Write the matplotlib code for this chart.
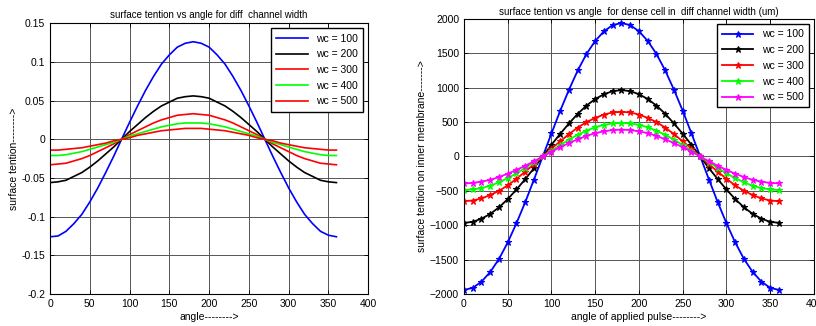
import numpy as np
import matplotlib
matplotlib.use('Agg')
from matplotlib import pyplot as plt

plt.rcParams['font.family'] = ['Liberation Sans', 'DejaVu Sans']

angle = list(range(0, 361, 10))
labels = ['wc = 100', 'wc = 200', 'wc = 300', 'wc = 400', 'wc = 500']

# left panel: surface tension vs angle
st_100 = [-0.126, -0.125, -0.119, -0.109, -0.097, -0.081, -0.063, -0.043, -0.022, 0.000,
          0.022, 0.043, 0.063, 0.081, 0.097, 0.109, 0.119, 0.124, 0.126, 0.124,
          0.119, 0.109, 0.097, 0.081, 0.063, 0.043, 0.022, 0.000, -0.022, -0.043,
          -0.063, -0.081, -0.097, -0.109, -0.119, -0.124, -0.126]
st_200 = [-0.056, -0.055, -0.053, -0.048, -0.043, -0.036, -0.028, -0.019, -0.010, 0.000,
          0.010, 0.019, 0.028, 0.036, 0.043, 0.048, 0.053, 0.055, 0.056, 0.055,
          0.053, 0.048, 0.043, 0.036, 0.028, 0.019, 0.010, 0.000, -0.010, -0.019,
          -0.028, -0.036, -0.043, -0.048, -0.053, -0.055, -0.056]
st_300 = [-0.033, -0.032, -0.031, -0.028, -0.025, -0.021, -0.016, -0.011, -0.006, 0.000,
          0.006, 0.011, 0.016, 0.021, 0.025, 0.028, 0.031, 0.032, 0.033, 0.032,
          0.031, 0.028, 0.025, 0.021, 0.016, 0.011, 0.006, 0.000, -0.006, -0.011,
          -0.016, -0.021, -0.025, -0.028, -0.031, -0.032, -0.033]
st_400 = [-0.021, -0.021, -0.020, -0.018, -0.016, -0.013, -0.010, -0.007, -0.004, 0.000,
          0.004, 0.007, 0.010, 0.013, 0.016, 0.018, 0.020, 0.021, 0.021, 0.021,
          0.020, 0.018, 0.016, 0.013, 0.010, 0.007, 0.004, 0.000, -0.004, -0.007,
          -0.010, -0.013, -0.016, -0.018, -0.020, -0.021, -0.021]
st_500 = [-0.014, -0.014, -0.013, -0.012, -0.011, -0.009, -0.007, -0.005, -0.002, 0.000,
          0.002, 0.005, 0.007, 0.009, 0.011, 0.012, 0.013, 0.014, 0.014, 0.014,
          0.013, 0.012, 0.011, 0.009, 0.007, 0.005, 0.002, 0.000, -0.002, -0.005,
          -0.007, -0.009, -0.011, -0.012, -0.013, -0.014, -0.014]

# right panel: dense cell, inner membrane
dc_100 = [-1940, -1910, -1820, -1680, -1490, -1250, -970, -665, -335, 0,
          335, 665, 970, 1250, 1490, 1680, 1820, 1910, 1940, 1910,
          1820, 1680, 1490, 1250, 970, 665, 335, 0, -335, -665,
          -970, -1250, -1490, -1680, -1820, -1910, -1940]
dc_200 = [-965, -950, -905, -835, -740, -620, -480, -330, -170, 0,
          170, 330, 480, 620, 740, 835, 905, 950, 965, 950,
          905, 835, 740, 620, 480, 330, 170, 0, -170, -330,
          -480, -620, -740, -835, -905, -950, -965]
dc_300 = [-650, -640, -610, -560, -500, -420, -325, -220, -115, 0,
          115, 220, 325, 420, 500, 560, 610, 640, 650, 640,
          610, 560, 500, 420, 325, 220, 115, 0, -115, -220,
          -325, -420, -500, -560, -610, -640, -650]
dc_400 = [-490, -480, -460, -425, -375, -315, -245, -165, -85, 0,
          85, 165, 245, 315, 375, 425, 460, 480, 490, 480,
          460, 425, 375, 315, 245, 165, 85, 0, -85, -165,
          -245, -315, -375, -425, -460, -480, -490]
dc_500 = [-390, -385, -365, -340, -300, -250, -195, -135, -70, 0,
          70, 135, 195, 250, 300, 340, 365, 385, 390, 385,
          365, 340, 300, 250, 195, 135, 70, 0, -70, -135,
          -195, -250, -300, -340, -365, -385, -390]

left_series = [st_100, st_200, st_300, st_400, st_500]
left_colors = ['#0000ff', '#000000', '#ff0000', '#00ff00', '#ff0000']
right_series = [dc_100, dc_200, dc_300, dc_400, dc_500]
right_colors = ['#0000ff', '#000000', '#ff0000', '#00ff00', '#ff00ff']

FS = 7.5
fig = plt.figure(figsize=(8.16, 3.26), dpi=100)
ax1 = fig.add_axes([0.0613, 0.098, 0.390, 0.831])
ax2 = fig.add_axes([0.5686, 0.098, 0.4289, 0.844])


def style(ax):
    ax.grid(True, color='#555555', linewidth=0.7)
    ax.set_axisbelow(True)
    ax.tick_params(labelsize=FS, direction='in', length=3, width=0.6, top=True, right=True)
    for s in ax.spines.values():
        s.set_linewidth(0.8)


for ys, c, lab in zip(left_series, left_colors, labels):
    ax1.plot(angle, ys, color=c, linewidth=1.2, label=lab)
ax1.set_xlim(0, 400)
ax1.set_ylim(-0.2, 0.15)
ax1.set_xticks(range(0, 401, 50))
yt = [-0.2, -0.15, -0.1, -0.05, 0, 0.05, 0.1, 0.15]
ax1.set_yticks(yt)
ax1.set_yticklabels(['-0.2', '-0.15', '-0.1', '-0.05', '0', '0.05', '0.1', '0.15'])
ax1.set_title('surface tention vs angle for diff  channel width', fontsize=7, pad=4)
ax1.set_xlabel('angle-------->', fontsize=FS, labelpad=2)
ax1.set_ylabel('surface tention-------->', fontsize=FS, labelpad=2)
style(ax1)
leg1 = ax1.legend(loc='upper right', fontsize=FS, fancybox=False, edgecolor='black',
                  framealpha=1, handlelength=3.0, borderaxespad=0.5, labelspacing=0.55,
                  borderpad=0.5)
leg1.get_frame().set_linewidth(1.0)

for ys, c, lab in zip(right_series, right_colors, labels):
    ax2.plot(angle, ys, color=c, linewidth=1.3, marker='*', markersize=4.5,
             markeredgewidth=0.8, label=lab)
ax2.set_xlim(0, 400)
ax2.set_ylim(-2000, 2000)
ax2.set_xticks(range(0, 401, 50))
ax2.set_yticks(range(-2000, 2001, 500))
ax2.set_title('surface tention vs angle  for dense cell in  diff channel width (um)', fontsize=7, pad=3)
ax2.set_xlabel('angle of applied pulse-------->', fontsize=FS, labelpad=2)
ax2.set_ylabel('surface tention on inner membrane------->', fontsize=FS, labelpad=2)
style(ax2)
leg2 = ax2.legend(loc='upper right', fontsize=FS, fancybox=False, edgecolor='black',
                  framealpha=1, handlelength=3.0, borderaxespad=0.5, labelspacing=0.55,
                  borderpad=0.5)
leg2.get_frame().set_linewidth(1.0)

fig.savefig('out.png', dpi=100)
